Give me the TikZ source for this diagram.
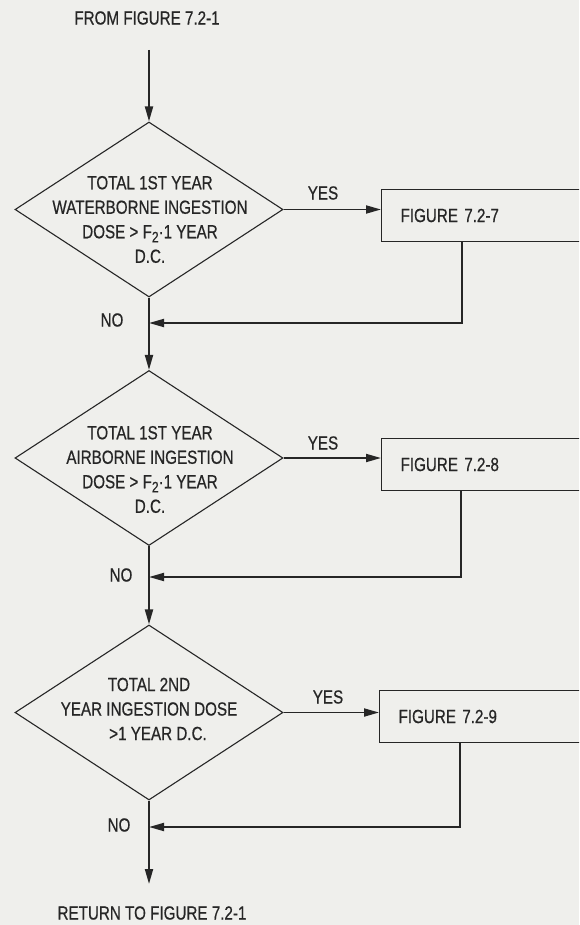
\documentclass[tikz,border=0pt]{standalone}
\usepackage{fontspec}
\setmainfont[FakeStretch=0.8,FakeBold=0.6]{Liberation Sans}
\usetikzlibrary{shapes.geometric,arrows.meta}
\definecolor{paper}{RGB}{239,239,236}
\definecolor{ink}{RGB}{38,38,38}
\newcommand{\subtwo}{\raisebox{-0.4ex}{\fontsize{15}{15}\selectfont 2}}
\begin{document}
\begin{tikzpicture}[x=1pt,y=-1pt,
  font=\fontsize{19}{24.5}\selectfont, text=ink,
  decision/.style={draw=ink, line width=1.1pt, diamond, minimum width=268pt,
    minimum height=175pt, inner sep=0pt},
  dtext/.style={align=center, inner sep=0pt},
  figbox/.style={draw=ink, line width=1.1pt, anchor=west, minimum height=52pt,
    text width=230pt, inner xsep=19pt, align=left},
  flow/.style={draw=ink, line width=1.9pt, -{Triangle[length=15pt,width=8pt]}},
  lbl/.style={inner sep=0pt},
]
\fill[paper] (0,0) rectangle (579,925);
\useasboundingbox (0,0) rectangle (579,925);
\clip (0,0) rectangle (579,925);

% entry and exit texts
\node[lbl] (from) at (147,18) {FROM FIGURE 7.2-1};
\node[lbl] (ret) at (152,913) {RETURN TO FIGURE 7.2-1};
\coordinate (start) at (149,50);
\coordinate (stop) at (149,884);

% decisions
\node[decision] (d1) at (149,209.5) {};
\node[dtext] (d1t) at (150,219.5) {TOTAL 1ST YEAR\\WATERBORNE INGESTION\\DOSE > F\subtwo·1 YEAR\\D.C.};
\node[decision] (d2) at (149,458) {};
\node[dtext] (d2t) at (150,469.5) {TOTAL 1ST YEAR\\AIRBORNE INGESTION\\DOSE > F\subtwo·1 YEAR\\D.C.};
\node[decision] (d3) at (149,712.5) {};
\node[dtext] (d3t) at (149,709) {TOTAL 2ND\\YEAR INGESTION DOSE\\\hspace*{18pt}>1 YEAR D.C.};

% referenced figures
\node[figbox] (b1) at (381,215.5) {FIGURE 7.2-7};
\node[figbox] (b2) at (381,464.5) {FIGURE 7.2-8};
\node[figbox] (b3) at (379,716.5) {FIGURE 7.2-9};

% return points
\coordinate (r1) at (462,323);
\coordinate (r2) at (461,577);
\coordinate (r3) at (460,827);

% main flow
\draw[flow] (start) -- (d1.north);
\draw[flow] (d1.south) -- (d2.north);
\draw[flow] (d2.south) -- (d3.north);
\draw[flow] (d3.south) -- (stop);

% yes branches
\draw[flow] (d1.east) -- (d1.east -| b1.west);
\draw[flow] (d2.east) -- (d2.east -| b2.west);
\draw[flow] (d3.east) -- (d3.east -| b3.west);

% returns from the referenced figures
\draw[flow] (b1.south west -| r1) -- (r1) -- (r1 -| d1.south);
\draw[flow] (b2.south west -| r2) -- (r2) -- (r2 -| d2.south);
\draw[flow] (b3.south west -| r3) -- (r3) -- (r3 -| d3.south);

% branch labels
\node[lbl] (y1) at (323,193) {YES};
\node[lbl] (y2) at (323,443) {YES};
\node[lbl] (y3) at (328,697) {YES};
\node[lbl] (n1) at (112,320) {NO};
\node[lbl] (n2) at (121,575) {NO};
\node[lbl] (n3) at (119,825) {NO};
\end{tikzpicture}
\end{document}
